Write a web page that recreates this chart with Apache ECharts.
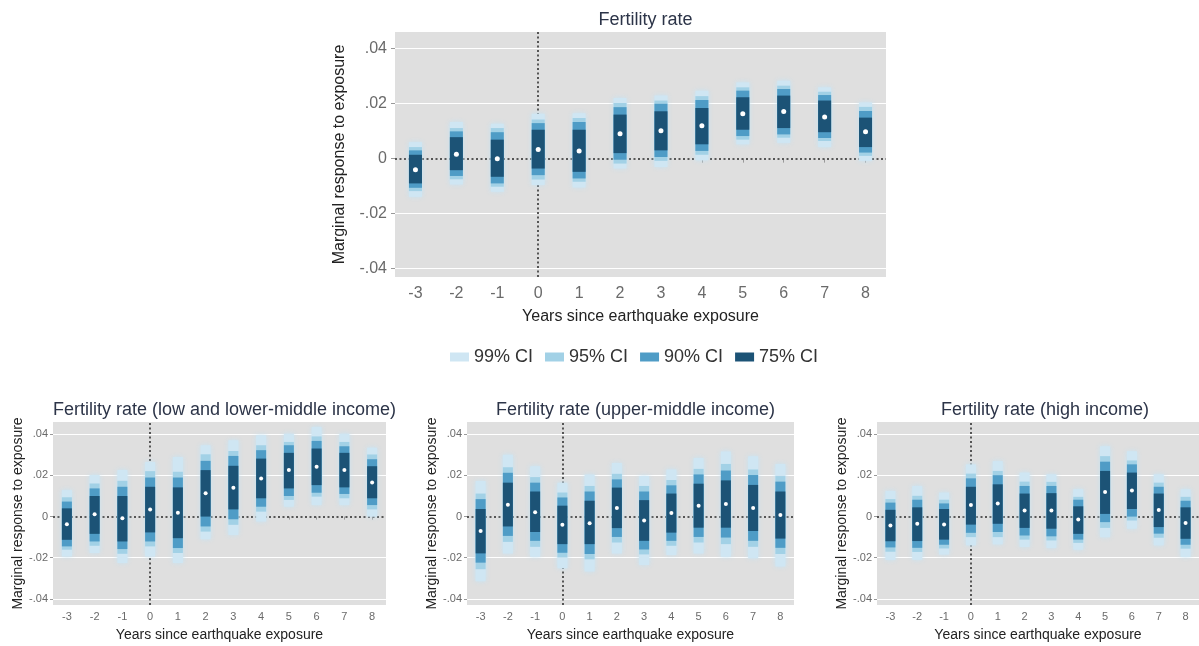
<!DOCTYPE html>
<html>
<head>
<meta charset="utf-8">
<script src="https://cdn.jsdelivr.net/npm/echarts@6/dist/echarts.min.js"></script>
<style>
  html, body { margin: 0; padding: 0; background: #fff; }
  #chart { width: 1199px; height: 646px; }
</style>
</head>
<body>
<div id="chart"></div>
<script>
// Event-study estimates: marginal response of fertility to earthquake exposure
const years = ['-3', '-2', '-1', '0', '1', '2', '3', '4', '5', '6', '7', '8'];
const yTickValues = [-0.04, -0.02, 0, 0.02, 0.04];
const yTickLabels = ['-.04', '-.02', '0', '.02', '.04'];
const ciNames = ['99% CI', '95% CI', '90% CI', '75% CI'];

// All countries
const allEst = [-0.0040, 0.0016, 0.0000, 0.0033, 0.0028, 0.0090, 0.0101, 0.0119, 0.0163, 0.0171, 0.0151, 0.0098];
const allCi75 = [[-0.0090, 0.0014], [-0.0042, 0.0078], [-0.0066, 0.0069], [-0.0036, 0.0105], [-0.0048, 0.0105], [0.0020, 0.0160], [0.0030, 0.0172], [0.0052, 0.0184], [0.0105, 0.0223], [0.0111, 0.0229], [0.0096, 0.0211], [0.0042, 0.0149]];
const allCi90 = [[-0.0106, 0.0030], [-0.0063, 0.0099], [-0.0090, 0.0096], [-0.0060, 0.0129], [-0.0072, 0.0133], [-0.0004, 0.0187], [0.0006, 0.0199], [0.0028, 0.0213], [0.0082, 0.0247], [0.0088, 0.0253], [0.0075, 0.0231], [0.0022, 0.0173]];
const allCi95 = [[-0.0118, 0.0042], [-0.0075, 0.0111], [-0.0102, 0.0111], [-0.0076, 0.0142], [-0.0084, 0.0148], [-0.0018, 0.0202], [-0.0008, 0.0211], [0.0014, 0.0227], [0.0069, 0.0259], [0.0076, 0.0265], [0.0064, 0.0243], [0.0010, 0.0188]];
const allCi99 = [[-0.0139, 0.0060], [-0.0094, 0.0133], [-0.0120, 0.0127], [-0.0096, 0.0163], [-0.0105, 0.0165], [-0.0036, 0.0220], [-0.0030, 0.0229], [-0.0006, 0.0247], [0.0052, 0.0277], [0.0057, 0.0283], [0.0042, 0.0259], [-0.0008, 0.0204]];

// Low and lower-middle income
const lowEst = [-0.0037, 0.0011, -0.0008, 0.0035, 0.0019, 0.0113, 0.0140, 0.0185, 0.0226, 0.0242, 0.0226, 0.0166];
const lowCi75 = [[-0.0113, 0.0040], [-0.0084, 0.0100], [-0.0121, 0.0100], [-0.0077, 0.0145], [-0.0105, 0.0142], [0.0000, 0.0226], [0.0035, 0.0247], [0.0089, 0.0282], [0.0137, 0.0310], [0.0153, 0.0331], [0.0142, 0.0310], [0.0089, 0.0245]];
const lowCi90 = [[-0.0145, 0.0073], [-0.0121, 0.0137], [-0.0158, 0.0145], [-0.0121, 0.0190], [-0.0153, 0.0190], [-0.0048, 0.0271], [-0.0013, 0.0295], [0.0048, 0.0323], [0.0100, 0.0347], [0.0116, 0.0368], [0.0110, 0.0342], [0.0056, 0.0279]];
const lowCi95 = [[-0.0161, 0.0094], [-0.0142, 0.0161], [-0.0181, 0.0174], [-0.0145, 0.0221], [-0.0177, 0.0218], [-0.0073, 0.0303], [-0.0040, 0.0319], [0.0024, 0.0347], [0.0081, 0.0363], [0.0097, 0.0390], [0.0089, 0.0363], [0.0035, 0.0302]];
const lowCi99 = [[-0.0194, 0.0129], [-0.0177, 0.0202], [-0.0226, 0.0226], [-0.0194, 0.0266], [-0.0226, 0.0290], [-0.0110, 0.0347], [-0.0089, 0.0371], [-0.0024, 0.0395], [0.0048, 0.0403], [0.0056, 0.0436], [0.0056, 0.0403], [0.0000, 0.0335]];

// Upper-middle income
const umEst = [-0.0070, 0.0058, 0.0021, -0.0040, -0.0032, 0.0042, -0.0019, 0.0018, 0.0053, 0.0061, 0.0042, 0.0008];
const umCi75 = [[-0.0179, 0.0037], [-0.0048, 0.0165], [-0.0075, 0.0122], [-0.0134, 0.0053], [-0.0134, 0.0077], [-0.0056, 0.0141], [-0.0118, 0.0080], [-0.0078, 0.0112], [-0.0054, 0.0160], [-0.0054, 0.0176], [-0.0070, 0.0154], [-0.0107, 0.0122]];
const umCi90 = [[-0.0224, 0.0085], [-0.0094, 0.0213], [-0.0118, 0.0165], [-0.0176, 0.0093], [-0.0182, 0.0122], [-0.0099, 0.0181], [-0.0160, 0.0122], [-0.0118, 0.0152], [-0.0099, 0.0205], [-0.0102, 0.0224], [-0.0118, 0.0202], [-0.0152, 0.0170]];
const umCi95 = [[-0.0256, 0.0112], [-0.0123, 0.0240], [-0.0147, 0.0192], [-0.0198, 0.0117], [-0.0208, 0.0149], [-0.0126, 0.0208], [-0.0184, 0.0149], [-0.0142, 0.0178], [-0.0126, 0.0232], [-0.0134, 0.0256], [-0.0147, 0.0229], [-0.0182, 0.0197]];
const umCi99 = [[-0.0315, 0.0173], [-0.0179, 0.0301], [-0.0195, 0.0245], [-0.0251, 0.0165], [-0.0267, 0.0205], [-0.0179, 0.0261], [-0.0235, 0.0197], [-0.0187, 0.0229], [-0.0179, 0.0285], [-0.0195, 0.0317], [-0.0203, 0.0293], [-0.0243, 0.0256]];

// High income
const highEst = [-0.0043, -0.0035, -0.0039, 0.0056, 0.0064, 0.0029, 0.0029, -0.0014, 0.0119, 0.0127, 0.0032, -0.0031];
const highCi75 = [[-0.0120, 0.0033], [-0.0119, 0.0045], [-0.0112, 0.0037], [-0.0039, 0.0145], [-0.0035, 0.0157], [-0.0055, 0.0112], [-0.0059, 0.0114], [-0.0084, 0.0050], [0.0013, 0.0222], [0.0037, 0.0214], [-0.0051, 0.0112], [-0.0108, 0.0045]];
const highCi90 = [[-0.0150, 0.0068], [-0.0152, 0.0082], [-0.0137, 0.0064], [-0.0079, 0.0186], [-0.0075, 0.0201], [-0.0092, 0.0149], [-0.0096, 0.0149], [-0.0112, 0.0082], [-0.0027, 0.0267], [0.0000, 0.0254], [-0.0083, 0.0145], [-0.0137, 0.0077]];
const highCi95 = [[-0.0171, 0.0085], [-0.0172, 0.0101], [-0.0155, 0.0082], [-0.0100, 0.0209], [-0.0100, 0.0222], [-0.0112, 0.0170], [-0.0116, 0.0169], [-0.0128, 0.0096], [-0.0055, 0.0294], [-0.0019, 0.0273], [-0.0103, 0.0165], [-0.0156, 0.0096]];
const highCi99 = [[-0.0211, 0.0125], [-0.0210, 0.0149], [-0.0185, 0.0117], [-0.0140, 0.0254], [-0.0135, 0.0270], [-0.0148, 0.0214], [-0.0153, 0.0206], [-0.0161, 0.0133], [-0.0100, 0.0342], [-0.0059, 0.0318], [-0.0140, 0.0206], [-0.0196, 0.0133]];

const ciColors = ['#cfe6f3', '#a2d1e6', '#4f9cc6', '#1c5376'];
const FONT = '"Liberation Sans", Arial, Helvetica, sans-serif';

const panels = [
  { title: 'Fertility rate', est: allEst, ci: [allCi99, allCi95, allCi90, allCi75],
    grid: { left: 395, top: 32, width: 491, height: 245 },
    big: true, barW: 13, dot: 5 },
  { title: 'Fertility rate (low and lower-middle income)', est: lowEst, ci: [lowCi99, lowCi95, lowCi90, lowCi75],
    grid: { left: 53, top: 422, width: 333, height: 183 },
    big: false, barW: 10, dot: 4 },
  { title: 'Fertility rate (upper-middle income)', est: umEst, ci: [umCi99, umCi95, umCi90, umCi75],
    grid: { left: 467, top: 422, width: 327, height: 183 },
    big: false, barW: 10, dot: 4 },
  { title: 'Fertility rate (high income)', est: highEst, ci: [highCi99, highCi95, highCi90, highCi75],
    grid: { left: 877, top: 422, width: 326, height: 183 },
    big: false, barW: 10, dot: 4 }
];

function yLabel(v) {
  for (let k = 0; k < yTickValues.length; k++) {
    if (Math.abs(v - yTickValues[k]) < 1e-9) return yTickLabels[k];
  }
  return '';
}

const option = {
  backgroundColor: '#ffffff',
  animation: false,
  textStyle: { fontFamily: FONT },
  title: [],
  grid: [],
  xAxis: [],
  yAxis: [],
  legend: {
    data: ciNames,
    left: 445,
    top: 343,
    icon: 'rect',
    itemWidth: 19,
    itemHeight: 9,
    itemGap: 12,
    selectedMode: false,
    textStyle: { fontSize: 18, color: '#333', fontFamily: FONT }
  },
  series: []
};

panels.forEach(function (p, idx) {
  const g = p.grid;
  option.title.push({
    text: p.title,
    left: g.left + g.width / 2,
    top: p.big ? 6 : 396,
    textAlign: 'center',
    textStyle: { fontSize: 18, fontWeight: 'normal', color: '#2c3448', fontFamily: FONT }
  });
  option.grid.push({
    left: g.left, top: g.top, width: g.width, height: g.height,
    show: true, backgroundColor: '#dfdfdf', borderWidth: 0, containLabel: false
  });
  option.xAxis.push({
    type: 'category',
    gridIndex: idx,
    data: years,
    boundaryGap: true,
    name: 'Years since earthquake exposure',
    nameLocation: 'middle',
    nameGap: p.big ? 32 : 23,
    nameTextStyle: { fontSize: p.big ? 16 : 14, color: '#222', fontFamily: FONT },
    axisLine: { show: false },
    axisTick: { show: true, alignWithLabel: true, length: p.big ? 4 : 3, lineStyle: { color: '#999' } },
    axisLabel: { fontSize: p.big ? 16 : 11, color: '#6a6a6a', margin: p.big ? 9 : 6, fontFamily: FONT },
    splitLine: { show: false }
  });
  option.yAxis.push({
    type: 'value',
    gridIndex: idx,
    min: -0.043,
    max: 0.046,
    name: 'Marginal response to exposure',
    nameLocation: 'middle',
    nameRotate: 90,
    nameGap: p.big ? 47 : 28,
    nameTextStyle: { fontSize: p.big ? 16 : 14, color: '#222', fontFamily: FONT },
    axisLine: { show: false },
    axisTick: { show: true, customValues: yTickValues, length: p.big ? 4 : 3, lineStyle: { color: '#999' } },
    axisLabel: {
      customValues: yTickValues,
      formatter: yLabel,
      fontSize: p.big ? 16 : 11,
      color: '#6a6a6a',
      margin: p.big ? 8 : 5,
      fontFamily: FONT
    },
    splitLine: { show: false }
  });

  // Gridlines and dotted reference lines at zero
  const zeroIdx = years.indexOf('0');
  const guideLines = yTickValues.filter(function (v) { return v !== 0; }).map(function (v) {
    return { yAxis: v, lineStyle: { color: '#ffffff', width: 1.2, type: 'solid' } };
  });
  guideLines.push({ yAxis: 0, lineStyle: { color: '#555', width: 2, type: [2, 2.5] } });
  guideLines.push({ xAxis: zeroIdx, lineStyle: { color: '#555', width: 2, type: [2, 2.5] } });
  option.series.push({
    type: 'line',
    xAxisIndex: idx,
    yAxisIndex: idx,
    data: [],
    z: 1,
    silent: true,
    markLine: {
      silent: true,
      z: 1,
      symbol: ['none', 'none'],
      label: { show: false },
      emphasis: { disabled: true },
      animation: false,
      data: guideLines
    }
  });

  // Confidence bands, widest first
  p.ci.forEach(function (band, level) {
    const color = ciColors[level];
    const w = p.barW;
    const soft = level === 0;
    option.series.push({
      name: ciNames[level],
      type: 'custom',
      xAxisIndex: idx,
      yAxisIndex: idx,
      z: 10 + level,
      silent: true,
      itemStyle: { color: color },
      encode: { x: 0, y: [1, 2] },
      data: band.map(function (b, i) { return [i, b[0], b[1]]; }),
      renderItem: function (params, api) {
        const xi = api.value(0);
        const top = api.coord([xi, api.value(2)]);
        const bot = api.coord([xi, api.value(1)]);
        return {
          type: 'rect',
          shape: { x: top[0] - w / 2, y: top[1], width: w, height: bot[1] - top[1] },
          style: soft
            ? { fill: color, shadowBlur: 5, shadowColor: 'rgba(195,228,246,0.95)' }
            : { fill: color }
        };
      }
    });
  });

  // Point estimates
  option.series.push({
    type: 'scatter',
    xAxisIndex: idx,
    yAxisIndex: idx,
    z: 20,
    silent: true,
    symbol: 'circle',
    symbolSize: p.dot,
    itemStyle: { color: '#ffffff', opacity: 1 },
    data: p.est.map(function (v, i) { return [i, v]; })
  });
});

const chart = echarts.init(document.getElementById('chart'), null, { renderer: 'canvas' });
chart.setOption(option);
</script>
</body>
</html>
